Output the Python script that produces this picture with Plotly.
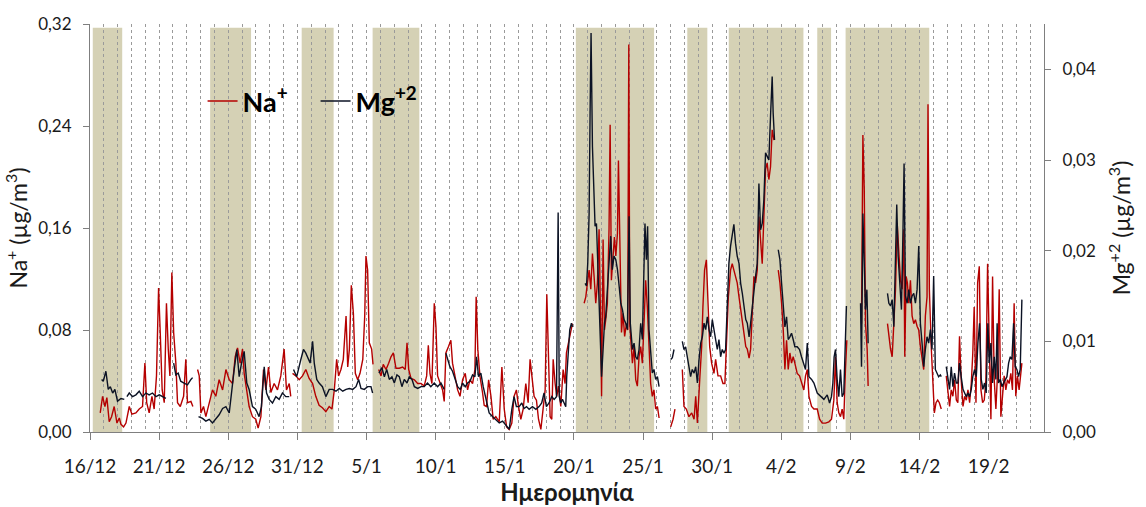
import numpy as np
import pandas as pd
import plotly.graph_objects as go

START = pd.Timestamp("2012-12-16")

# ---- Na+ (µg/m3), time in days since 16/12, None = gap ----
na_days = [0.74,0.91,1.08,1.22,1.39,1.56,1.75,1.95,2.12,2.24,2.43,2.6,2.84,3.03,3.32,3.56,3.8,3.97,4.1,4.28,4.48,4.64,4.81,4.96,5.08,5.22,5.37,5.53,5.66,5.78,5.92,6.05,6.21,6.33,6.53,6.77,6.93,7.05,7.3,7.44,
    7.6,
    7.78,7.9,8.02,8.21,8.38,8.62,8.86,9.1,9.34,9.59,9.83,10.07,10.31,10.5,10.67,10.86,11.03,11.15,11.34,11.51,11.75,11.99,12.16,12.36,12.55,12.72,12.91,13.08,13.32,13.56,13.8,14.04,14.21,14.41,14.52,
    14.58,
    14.65,14.89,15.13,15.37,15.61,15.85,16.1,16.33,16.57,16.81,17.06,17.3,17.5,17.67,17.84,17.98,18.15,18.32,18.52,18.64,18.76,18.9,19.05,19.19,19.36,19.53,19.73,19.87,19.96,20.08,20.2,20.37,20.47,
    20.65,
    20.88,21.05,21.21,21.41,21.6,21.77,21.94,22.13,22.37,22.61,22.8,22.93,23.05,23.22,23.46,23.7,23.94,24.17,24.35,24.47,24.59,24.73,24.9,25.02,25.14,25.31,25.5,25.62,25.74,25.93,26.1,26.22,26.41,26.59,26.76,26.95,27.14,27.31,27.48,27.67,27.84,27.93,28.05,28.2,28.39,28.51,28.68,28.83,29.0,29.16,29.35,29.6,29.79,29.96,30.13,30.32,30.51,30.67,30.84,30.99,31.16,31.33,31.52,31.69,31.83,31.95,32.12,32.29,32.44,32.61,32.77,32.92,33.04,33.16,33.28,33.4,33.5,33.64,33.76,33.88,34.05,34.22,34.36,34.46,34.6,34.72,34.89,
    35.3,
    35.74,35.86,35.98,36.1,36.22,36.34,36.46,36.58,36.7,36.82,36.94,37.0,37.11,37.21,37.3,37.42,37.54,37.62,37.71,37.83,37.93,38.03,38.15,38.22,38.31,38.44,38.55,38.67,38.8,38.89,38.97,39.04,39.13,39.23,39.35,39.47,39.59,39.71,39.83,39.95,40.07,40.19,40.31,40.43,40.55,40.67,40.79,40.91,41.04,41.16,
    41.5,
    42.0,42.17,42.31,
    42.55,
    42.84,42.96,43.13,43.32,43.52,43.69,43.81,43.93,44.1,44.24,44.33,44.45,44.58,44.7,44.82,44.96,45.13,45.25,45.42,45.61,45.78,45.92,46.02,46.17,46.33,46.45,46.57,46.69,46.81,46.94,47.06,47.18,47.31,47.43,47.54,47.67,47.78,47.9,48.02,48.14,48.26,48.38,48.5,48.62,48.74,48.86,48.98,49.1,49.22,49.34,49.47,
    49.62,
    49.78,49.9,50.02,50.14,50.26,50.38,50.5,50.62,50.74,50.86,50.98,51.15,51.32,51.46,51.63,51.75,51.88,52.0,52.19,52.36,52.6,52.77,52.96,53.2,53.44,53.63,53.8,53.92,54.04,54.16,54.28,54.4,54.52,54.64,54.74,
    55.2,
    55.8,55.9,56.0,56.09,56.21,56.28,
    57.0,
    57.68,57.78,57.9,58.02,58.14,58.26,58.38,58.5,58.62,58.74,58.86,58.93,59.03,59.12,59.22,59.34,59.46,59.58,59.7,59.82,59.94,60.06,60.18,60.3,60.42,60.54,60.61,60.71,60.83,60.95,61.07,61.19,61.31,61.43,61.57,
    61.75,
    61.93,62.05,62.17,62.29,62.41,62.53,62.66,62.77,62.89,63.01,63.14,63.26,63.38,63.5,63.62,63.74,63.85,63.95,64.08,64.2,64.32,64.44,64.56,64.68,64.8,64.92,65.04,65.16,65.28,65.4,65.52,65.64,65.76,65.88,66.0,66.12,66.24,66.36,66.48,66.6,66.72,66.84,66.96,67.08,67.2,67.32,67.4]

na_vals = [0.015,0.028,0.020,0.027,0.008,0.012,0.020,0.007,0.011,0.006,0.004,0.007,0.020,0.014,0.015,0.018,0.020,0.054,0.023,0.015,0.028,0.018,0.044,0.113,0.078,0.033,0.023,0.101,0.065,0.044,0.125,0.078,0.054,0.023,0.020,0.028,0.057,0.023,0.024,0.020,
    None,
    0.049,0.044,0.015,0.020,0.012,0.023,0.033,0.028,0.041,0.033,0.049,0.041,0.038,0.059,0.066,0.054,0.065,0.046,0.033,0.020,0.012,0.010,0.003,0.012,0.049,0.033,0.051,0.031,0.038,0.033,0.044,0.065,0.033,0.038,0.028,
    None,
    0.046,0.044,0.041,0.044,0.049,0.042,0.038,0.028,0.021,0.019,0.016,0.020,0.018,0.033,0.057,0.044,0.049,0.057,0.091,0.051,0.065,0.115,0.093,0.046,0.041,0.046,0.057,0.091,0.138,0.127,0.070,0.065,0.053,
    None,
    0.049,0.044,0.053,0.049,0.054,0.059,0.062,0.050,0.050,0.051,0.049,0.070,0.049,0.042,0.041,0.038,0.038,0.036,0.044,0.068,0.046,0.038,0.101,0.083,0.044,0.038,0.033,0.024,0.062,0.067,0.072,0.054,0.044,0.033,0.028,0.041,0.046,0.033,0.041,0.038,0.049,0.106,0.065,0.044,0.031,0.021,0.020,0.041,0.028,0.010,0.012,0.008,0.051,0.018,0.004,0.002,0.007,0.028,0.033,0.020,0.010,0.018,0.038,0.023,0.057,0.044,0.028,0.025,0.010,0.002,0.018,0.033,0.108,0.054,0.012,0.010,0.057,0.038,0.028,0.036,0.020,0.049,0.038,0.062,0.070,0.078,0.085,
    None,
    0.101,0.106,0.117,0.127,0.112,0.140,0.122,0.101,0.117,0.159,0.080,0.028,0.151,0.080,0.088,0.101,0.159,0.241,0.119,0.138,0.153,0.138,0.156,0.213,0.159,0.078,0.093,0.075,0.085,0.080,0.304,0.085,0.070,0.054,0.067,0.041,0.036,0.059,0.067,0.054,0.085,0.119,0.098,0.067,0.038,0.028,0.033,0.018,0.020,0.011,
    None,
    0.004,0.010,0.018,
    None,
    0.049,0.020,0.018,0.012,0.015,0.010,0.028,0.007,0.041,0.067,0.098,0.127,0.135,0.093,0.067,0.054,0.046,0.057,0.044,0.044,0.038,0.038,0.070,0.106,0.127,0.132,0.127,0.122,0.117,0.106,0.096,0.085,0.075,0.067,0.065,0.058,0.065,0.091,0.122,0.117,0.127,0.169,0.148,0.132,0.169,0.206,0.211,0.198,0.208,0.237,0.229,
    None,
    0.127,0.117,0.101,0.080,0.049,0.072,0.049,0.062,0.054,0.059,0.054,0.046,0.044,0.038,0.033,0.044,0.049,0.028,0.020,0.018,0.018,0.010,0.007,0.007,0.008,0.010,0.025,0.059,0.023,0.015,0.012,0.018,0.010,0.049,0.072,
    None,
    0.085,0.233,0.190,0.085,0.065,0.036,
    None,
    0.085,0.075,0.065,0.059,0.085,0.112,0.164,0.138,0.119,0.112,0.159,0.059,0.122,0.117,0.101,0.119,0.091,0.085,0.088,0.083,0.080,0.067,0.059,0.049,0.091,0.106,0.257,0.112,0.070,0.044,0.015,0.023,0.025,0.023,0.018,
    None,
    0.044,0.033,0.020,0.033,0.028,0.041,0.025,0.023,0.075,0.041,0.020,0.028,0.025,0.033,0.023,0.038,0.062,0.098,0.023,0.117,0.130,0.033,0.023,0.025,0.041,0.132,0.075,0.010,0.122,0.041,0.018,0.046,0.112,0.012,0.028,0.044,0.033,0.041,0.038,0.046,0.033,0.101,0.028,0.044,0.033,0.046,0.054]

# ---- Mg+2 (µg/m3) ----
mg_days = [0.84,0.96,1.15,1.32,1.47,1.64,1.8,1.99,2.24,2.48,
    2.55,
    2.67,2.84,3.08,3.32,3.56,3.8,4.04,4.28,4.52,4.77,5.01,5.25,5.49,
    5.8,
    6.05,6.21,6.38,6.56,6.8,7.05,7.3,7.42,
    7.6,
    7.85,8.14,8.38,8.62,8.86,9.1,9.34,9.59,9.83,10.07,10.24,10.43,10.62,10.79,10.96,11.15,11.34,11.51,11.75,11.99,12.23,12.4,12.6,12.77,12.96,13.2,13.44,13.68,13.92,14.16,14.41,
    14.58,
    14.72,14.95,15.25,15.44,15.61,15.78,15.92,16.1,16.22,16.4,16.57,16.81,17.06,17.3,17.55,17.79,18.03,18.28,18.52,18.76,19.0,19.24,19.43,19.6,19.84,20.08,20.32,20.44,
    20.65,
    20.9,21.11,21.29,21.46,21.65,21.84,22.01,22.2,22.37,22.56,22.73,22.93,23.09,23.29,23.46,23.7,23.94,24.17,24.41,24.65,24.9,25.14,25.38,25.62,
    25.68,
    25.74,25.86,26.03,26.22,26.41,26.59,26.78,26.95,27.14,27.31,27.48,27.67,27.84,27.96,28.1,28.27,28.44,28.87,29.11,29.35,29.6,29.84,30.08,30.32,30.51,30.67,30.84,31.04,31.23,31.4,31.57,31.76,32.0,32.25,32.48,32.67,32.84,33.01,33.2,33.4,33.57,33.74,33.86,33.94,34.05,34.17,34.29,34.41,34.48,34.6,34.7,34.82,34.9,
    35.3,
    35.81,35.91,36.0,36.1,36.17,36.24,36.34,36.44,36.53,36.63,36.72,36.82,36.92,37.0,37.11,37.21,37.3,37.42,37.54,37.66,37.78,37.9,38.03,38.15,38.27,38.39,38.51,38.63,38.75,38.87,38.99,39.08,39.23,39.35,39.47,39.59,39.71,39.83,39.95,40.07,40.14,40.24,40.33,40.43,40.55,40.67,40.79,40.91,41.04,41.16,
    41.5,
    42.0,42.12,42.24,
    42.55,
    42.84,42.96,43.08,43.2,43.32,43.44,43.56,43.69,43.81,43.93,44.05,44.17,44.29,44.41,44.53,44.65,44.77,44.89,45.01,45.13,45.25,45.37,45.49,45.61,45.73,45.85,45.97,46.08,46.21,46.33,46.45,46.57,46.69,46.81,46.94,47.06,47.18,47.31,47.43,47.54,47.67,47.78,47.9,48.02,48.14,48.26,48.38,48.5,48.62,48.74,48.86,48.98,49.1,49.22,49.34,49.41,49.51,
    49.65,
    49.78,49.9,50.02,50.14,50.26,50.38,50.5,50.62,50.74,50.86,50.98,51.15,51.32,51.46,51.63,51.75,51.88,52.0,52.19,52.36,52.6,52.84,53.08,53.32,53.49,53.63,53.73,53.82,53.92,54.04,54.16,54.28,54.4,54.52,54.64,54.71,
    55.2,
    55.73,55.8,55.9,56.0,56.09,56.19,56.28,
    57.0,
    57.68,57.78,57.9,58.02,58.14,58.26,58.35,58.45,58.57,58.69,58.81,58.88,58.98,59.1,59.22,59.34,59.46,59.58,59.7,59.82,59.94,60.06,60.18,60.3,60.42,60.54,60.66,60.78,60.9,61.02,61.14,61.26,61.38,61.5,61.57,
    61.75,
    61.93,62.05,62.17,62.29,62.41,62.53,62.66,62.77,62.89,63.01,63.14,63.26,63.38,63.5,63.62,63.74,63.85,63.98,64.1,64.22,64.34,64.46,64.58,64.7,64.82,64.94,65.04,65.16,65.28,65.4,65.52,65.61,65.71,65.84,65.96,66.08,66.2,66.32,66.44,66.56,66.68,66.8,66.92,67.04,67.16,67.28,67.4]

mg_vals = [0.0058,0.0056,0.0067,0.0047,0.0050,0.0043,0.0047,0.0034,0.0037,0.0036,
    None,
    0.0039,0.0043,0.0039,0.0041,0.0045,0.0039,0.0043,0.0041,0.0043,0.0039,0.0041,0.0039,0.0037,
    None,
    0.0076,0.0063,0.0065,0.0056,0.0054,0.0052,0.0058,0.0060,
    None,
    0.0017,0.0015,0.0012,0.0014,0.0010,0.0014,0.0019,0.0026,0.0028,0.0021,0.0047,0.0069,0.0091,0.0061,0.0076,0.0089,0.0054,0.0047,0.0028,0.0025,0.0017,0.0028,0.0072,0.0043,0.0036,0.0032,0.0039,0.0036,0.0043,0.0039,0.0039,
    None,
    0.0069,0.0061,0.0080,0.0091,0.0087,0.0080,0.0076,0.0100,0.0076,0.0058,0.0054,0.0050,0.0039,0.0047,0.0047,0.0045,0.0048,0.0045,0.0047,0.0048,0.0047,0.0050,0.0058,0.0048,0.0047,0.0050,0.0050,0.0043,
    None,
    0.0065,0.0071,0.0061,0.0069,0.0058,0.0061,0.0054,0.0063,0.0061,0.0050,0.0058,0.0054,0.0061,0.0058,0.0050,0.0048,0.0050,0.0050,0.0054,0.0050,0.0054,0.0050,0.0054,0.0047,
    None,
    0.0087,0.0080,0.0072,0.0067,0.0058,0.0050,0.0047,0.0054,0.0050,0.0054,0.0056,0.0063,0.0061,0.0083,0.0061,0.0065,0.0050,0.0021,0.0017,0.0014,0.0010,0.0012,0.0008,0.0003,0.0025,0.0039,0.0028,0.0028,0.0032,0.0026,0.0028,0.0025,0.0028,0.0025,0.0028,0.0032,0.0043,0.0028,0.0032,0.0039,0.0036,0.0039,0.0242,0.0039,0.0032,0.0036,0.0032,0.0028,0.0061,0.0094,0.0113,0.0120,0.0116,
    None,
    0.0164,0.0161,0.0186,0.0241,0.0352,0.0440,0.0315,0.0252,0.0227,0.0230,0.0190,0.0142,0.0091,0.0061,0.0091,0.0120,0.0127,0.0161,0.0194,0.0216,0.0179,0.0194,0.0190,0.0179,0.0161,0.0142,0.0135,0.0124,0.0120,0.0113,0.0238,0.0120,0.0091,0.0098,0.0083,0.0080,0.0091,0.0120,0.0102,0.0186,0.0230,0.0190,0.0227,0.0113,0.0091,0.0065,0.0069,0.0058,0.0061,0.0050,
    None,
    0.0080,0.0082,0.0091,
    None,
    0.0100,0.0091,0.0094,0.0083,0.0076,0.0061,0.0069,0.0065,0.0072,0.0054,0.0080,0.0098,0.0105,0.0120,0.0113,0.0127,0.0113,0.0105,0.0124,0.0113,0.0098,0.0091,0.0102,0.0083,0.0091,0.0087,0.0091,0.0135,0.0186,0.0205,0.0219,0.0229,0.0208,0.0194,0.0186,0.0164,0.0153,0.0139,0.0124,0.0120,0.0105,0.0120,0.0139,0.0150,0.0172,0.0186,0.0274,0.0223,0.0230,0.0256,0.0308,0.0304,0.0300,0.0348,0.0392,0.0352,0.0322,
    None,
    0.0201,0.0190,0.0164,0.0135,0.0116,0.0127,0.0102,0.0105,0.0109,0.0102,0.0094,0.0094,0.0091,0.0083,0.0076,0.0069,0.0098,0.0061,0.0058,0.0054,0.0043,0.0039,0.0036,0.0041,0.0032,0.0039,0.0054,0.0083,0.0091,0.0058,0.0039,0.0069,0.0039,0.0043,0.0109,0.0139,
    None,
    0.0142,0.0072,0.0241,0.0194,0.0135,0.0157,0.0098,
    None,
    0.0153,0.0142,0.0139,0.0146,0.0116,0.0205,0.0251,0.0194,0.0164,0.0135,0.0230,0.0296,0.0150,0.0142,0.0157,0.0142,0.0150,0.0153,0.0142,0.0157,0.0205,0.0120,0.0098,0.0072,0.0091,0.0105,0.0098,0.0113,0.0091,0.0172,0.0069,0.0065,0.0061,0.0063,0.0061,
    None,
    0.0072,0.0058,0.0047,0.0072,0.0050,0.0065,0.0054,0.0054,0.0076,0.0061,0.0047,0.0043,0.0039,0.0043,0.0039,0.0047,0.0061,0.0069,0.0061,0.0098,0.0120,0.0058,0.0047,0.0054,0.0043,0.0120,0.0076,0.0098,0.0054,0.0083,0.0058,0.0120,0.0054,0.0058,0.0050,0.0054,0.0058,0.0061,0.0076,0.0083,0.0080,0.0120,0.0072,0.0069,0.0061,0.0069,0.0146]

# ---- shaded episodes (days since 16/12) ----
episode_start = [0.2, 8.69, 15.31, 20.44, 35.14, 43.2, 46.2, 52.6, 54.65]
episode_end = [2.33, 11.65, 17.62, 23.82, 40.8, 44.65, 51.6, 53.6, 60.7]

def to_dates(days):
    return START + pd.to_timedelta(np.array(days, dtype=float), unit="D")

FONT = "Lato, 'Noto Sans', sans-serif"
TXT = "#1a1a1a"
GRID = "#9a9a9a"

fig = go.Figure()
fig.add_trace(go.Scatter(x=to_dates(na_days), y=na_vals, mode="lines",
                         name="<b>Na<sup>+</sup></b>", connectgaps=False,
                         line=dict(color="#B50000", width=1.4)))
fig.add_trace(go.Scatter(x=to_dates(mg_days), y=mg_vals, mode="lines",
                         name="<b>Mg<sup>+2</sup></b>", connectgaps=False, yaxis="y2",
                         line=dict(color="#0B1224", width=1.4)))

for s, e in zip(episode_start, episode_end):
    fig.add_shape(type="rect", xref="x", yref="y",
                  x0=to_dates([s])[0], x1=to_dates([e])[0], y0=0, y1=0.317,
                  fillcolor="#D5D1B5", line=dict(width=0), layer="below")

fig.update_layout(
    width=1146, height=507,
    margin=dict(l=90, r=102, t=24, b=75),
    paper_bgcolor="white", plot_bgcolor="white",
    separators=",.",
    font=dict(family=FONT, color=TXT, size=17),
    showlegend=True,
    legend=dict(orientation="h", x=0.118, y=0.81, xanchor="left", yanchor="middle",
                bgcolor="rgba(0,0,0,0)", font=dict(size=27, color="#000"),
                itemwidth=30, entrywidth=68, entrywidthmode="pixels"),
    xaxis=dict(type="date",
               range=[START, to_dates([69])[0]],
               tick0=START, dtick=5 * 86400000, tickformat="%-d/%-m",
               ticks="outside", ticklen=7, tickcolor="#7f7f7f",
               ticklabelstandoff=10,
               showline=True, linecolor="#7f7f7f", linewidth=1,
               showgrid=True, gridcolor=GRID, griddash="dot", gridwidth=1,
               minor=dict(dtick=86400000, showgrid=True, gridcolor=GRID,
                          griddash="dot", gridwidth=1),
               tickfont=dict(size=19, color=TXT),
               title=dict(text="<b>Ημερομηνία</b>", font=dict(size=24, color=TXT), standoff=2),
               zeroline=False),
    yaxis=dict(range=[0, 0.32], dtick=0.08, tickformat=".2f",
               ticks="outside", ticklen=6, tickcolor="#7f7f7f",
               ticklabelstandoff=8,
               showline=True, linecolor="#7f7f7f", linewidth=1,
               showgrid=False, zeroline=False,
               tickfont=dict(size=17, color=TXT),
               title=dict(text="Na<sup>+</sup> (µg/m<sup>3</sup>)", font=dict(size=23, color=TXT), standoff=4)),
    yaxis2=dict(range=[0, 0.045], dtick=0.01, tickformat=".2f", overlaying="y", side="right",
                ticks="outside", ticklen=6, tickcolor="#7f7f7f",
                ticklabelstandoff=8,
                showline=True, linecolor="#7f7f7f", linewidth=1,
                showgrid=False, zeroline=False,
                tickfont=dict(size=17, color=TXT),
                title=dict(text="Mg<sup>+2</sup> (µg/m<sup>3</sup>)", font=dict(size=23, color=TXT), standoff=18)),
)

fig.write_html("out.html")
